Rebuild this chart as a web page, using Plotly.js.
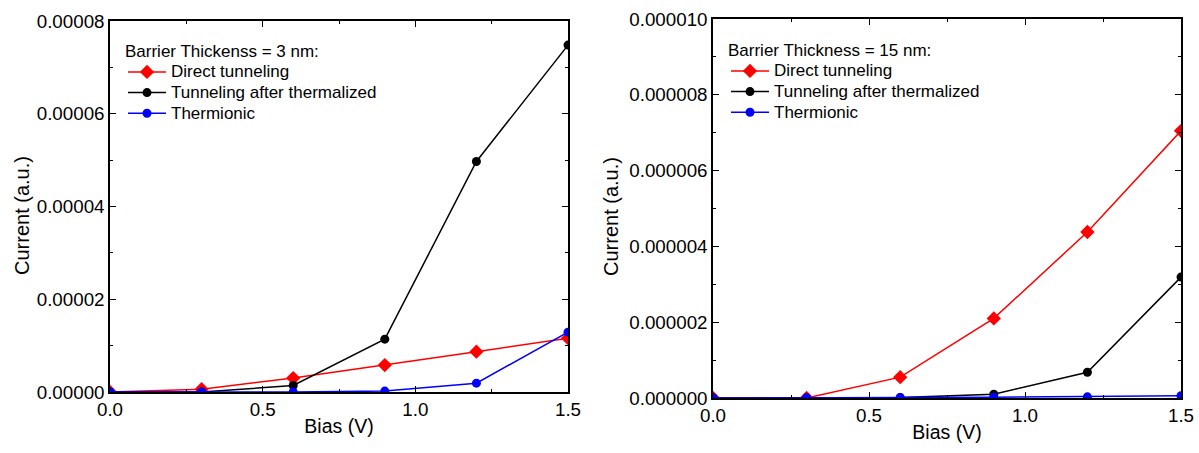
<!DOCTYPE html>
<html>
<head>
<meta charset="utf-8">
<script src="https://cdn.plot.ly/plotly-3.0.1.min.js"></script>
<style>
  html, body { margin: 0; padding: 0; background: #fff; }
  #chart { width: 1199px; height: 453px; }
</style>
</head>
<body>
<div id="chart"></div>
<script>
// Bias voltage sweep (V)
const bias = [0, 0.3, 0.6, 0.9, 1.2, 1.5];

// Barrier 3 nm currents (a.u.)
const thin3Direct       = [0, 6e-7, 3.0e-6, 5.8e-6, 8.7e-6, 1.16e-5];
const thin3Thermalized  = [0, 0, 1.4e-6, 1.14e-5, 4.97e-5, 7.48e-5];
const thin3Thermionic   = [0, 0, 0, 2e-7, 1.9e-6, 1.29e-5];

// Barrier 15 nm currents (a.u.)
const thick15Direct      = [0, 0, 5.5e-7, 2.1e-6, 4.38e-6, 7.05e-6];
const thick15Thermalized = [0, 0, 1e-8, 1e-7, 6.8e-7, 3.19e-6];
const thick15Thermionic  = [0, 0, 1e-8, 2e-8, 3e-8, 6e-8];

const seriesNames = ["Direct tunneling", "Tunneling after thermalized", "Thermionic"];
const legendTitles = ["Barrier Thickenss = 3 nm:", "Barrier Thickness = 15 nm:"];

const FONT = "Liberation Sans, Arial, sans-serif";
const LEGEND_TEXT_PX = 17;    // rendered legend text size
const LEGEND_ROW_PX = 13.6;   // base size that sets the legend row pitch
const LEGEND_TITLE_PX = 16.6; // base size that sets the gap under the legend title
const colors = ["#ff0000", "#000000", "#0000ff"];
const symbols = ["diamond", "circle", "circle"];
const sizes = [11, 9, 9];

const big = s => `<span style="font-size:${LEGEND_TEXT_PX}px">${s}</span>`;

function makeTraces(values, xa, ya, legendId) {
  return values.map((v, i) => ({
    x: bias, y: v, xaxis: xa, yaxis: ya,
    type: "scatter", mode: "lines+markers",
    name: big(seriesNames[i]), legend: legendId,
    line: { color: colors[i], width: 1.5 },
    marker: { color: colors[i], symbol: symbols[i], size: sizes[i] },
    hoverinfo: "x+y"
  }));
}

const data = [
  ...makeTraces([thin3Direct, thin3Thermalized, thin3Thermionic], "x", "y", "legend"),
  ...makeTraces([thick15Direct, thick15Thermalized, thick15Thermionic], "x2", "y2", "legend2")
];

function xAxis(domain, anchor) {
  return {
    domain: domain, anchor: anchor, range: [0, 1.5], dtick: 0.5, tickformat: ".1f",
    showgrid: false, zeroline: false,
    showline: true, linecolor: "#000", linewidth: 1.5, mirror: "allticks",
    ticks: "inside", ticklen: 6, tickwidth: 1.2, tickcolor: "#000",
    minor: { dtick: 0.25, ticks: "inside", ticklen: 3.5, tickwidth: 1.2, tickcolor: "#000", showgrid: false },
    tickfont: { family: FONT, size: 18.75, color: "#000" },
    title: { text: "Bias (V)", font: { family: FONT, size: 19.5, color: "#000" }, standoff: 0 },
    automargin: false, fixedrange: true
  };
}

function yAxis(domain, anchor, top, major, fmt) {
  return {
    domain: domain, anchor: anchor, range: [0, top], dtick: major, tickformat: fmt,
    showgrid: false, zeroline: false,
    showline: true, linecolor: "#000", linewidth: 1.5, mirror: "allticks",
    ticks: "inside", ticklen: 6, tickwidth: 1.2, tickcolor: "#000",
    minor: { dtick: major / 2, ticks: "inside", ticklen: 3.5, tickwidth: 1.2, tickcolor: "#000", showgrid: false },
    tickfont: { family: FONT, size: 18.75, color: "#000" },
    automargin: false, fixedrange: true
  };
}

function legendBox(x, y, title) {
  return {
    x: x, y: y, xanchor: "left", yanchor: "top",
    bgcolor: "rgba(0,0,0,0)", borderwidth: 0,
    itemwidth: 38,
    font: { family: FONT, size: LEGEND_ROW_PX, color: "#000" },
    title: { text: big(title), side: "top", font: { family: FONT, size: LEGEND_TITLE_PX, color: "#000" } },
    tracegroupgap: 0, itemclick: false, itemdoubleclick: false
  };
}

// Vertical axis titles, placed beside each panel's tick labels
function yTitle(px, py) {
  return {
    text: "Current (a.u.)", textangle: -90, showarrow: false,
    xref: "paper", yref: "paper", x: px / 1199, y: 1 - py / 453,
    xanchor: "center", yanchor: "middle",
    font: { family: FONT, size: 20, color: "#000" }
  };
}

const layout = {
  width: 1199, height: 453,
  margin: { l: 0, r: 0, t: 0, b: 0 },
  paper_bgcolor: "#fff", plot_bgcolor: "#fff",
  font: { family: FONT, color: "#000" },
  showlegend: true,
  xaxis: xAxis([110 / 1199, 568 / 1199], "y"),
  yaxis: yAxis([1 - 392 / 453, 1 - 21 / 453], "x", 0.00008, 0.00002, ".5f"),
  xaxis2: xAxis([713 / 1199, 1181 / 1199], "y2"),
  yaxis2: yAxis([1 - 398 / 453, 1 - 19 / 453], "x2", 0.00001, 0.000002, ".6f"),
  legend: legendBox(123 / 1199, 1 - 35 / 453, legendTitles[0]),
  legend2: legendBox(726 / 1199, 1 - 34 / 453, legendTitles[1]),
  annotations: [yTitle(22, 216), yTitle(611, 217)]
};

Plotly.newPlot("chart", data, layout, { displayModeBar: false });
</script>
</body>
</html>
